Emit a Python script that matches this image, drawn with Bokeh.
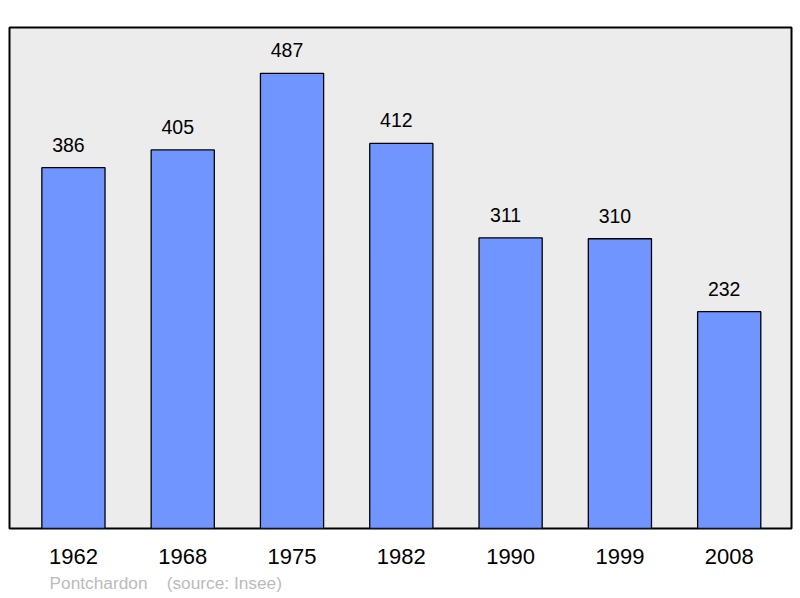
from bokeh.plotting import figure
from bokeh.models import ColumnDataSource, FixedTicker, Range1d, Title
from bokeh.embed import file_html
from bokeh.resources import INLINE
from bokeh.core.properties import value

years = ["1962", "1968", "1975", "1982", "1990", "1999", "2008"]
population = [386, 405, 487, 412, 311, 310, 232]
positions = list(range(len(years)))

src = ColumnDataSource(dict(
    x=positions,
    top=population,
    label=[str(v) for v in population],
))

p = figure(width=800, height=598, output_backend="svg", toolbar_location=None,
           x_range=Range1d(-0.585, 6.57), y_range=Range1d(0, 536),
           min_border_left=9, min_border_right=9, min_border_top=27, min_border_bottom=70)

p.background_fill_color = "#ececec"
p.border_fill_color = "white"
p.outline_line_color = "black"
p.outline_line_width = 2
p.grid.visible = False

p.vbar(x="x", top="top", width=0.578, bottom=0, source=src,
       fill_color="#7095ff", line_color="black", line_width=1.3)

p.text(x="x", y="top", text="label", source=src, text_align="center",
       text_baseline="bottom", y_offset=-16, x_offset=-5,
       text_font=value("Liberation Sans"),
       text_font_size="19.5px", text_color="black")

p.yaxis.visible = False
xa = p.xaxis[0]
xa.ticker = FixedTicker(ticks=positions)
xa.major_label_overrides = {i: y for i, y in enumerate(years)}
xa.axis_line_color = None
xa.major_tick_line_color = None
xa.minor_tick_line_color = None
xa.major_label_text_font = "Liberation Sans"
xa.major_label_text_font_size = "22px"
xa.major_label_text_color = "black"
xa.major_label_standoff = 14

footer = Title(text="Pontchardon\u00a0\u00a0\u00a0\u00a0(source: Insee)", align="left", offset=40,
               text_font="Liberation Sans", text_font_size="17.3px",
               text_font_style="normal", text_color="#bbbbbb", standoff=8)
p.add_layout(footer, "below")

open("out.html", "w").write(file_html(p, INLINE))
